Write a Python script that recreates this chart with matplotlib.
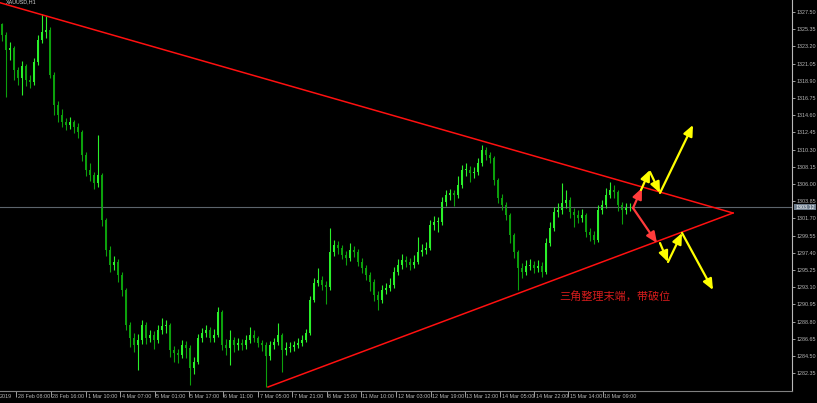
import matplotlib.pyplot as plt
import matplotlib.transforms as mtransforms
import numpy as np

# XAUUSD H1, one entry per candle
first_open = 1326.00
closes = [1324.62, 1322.75, 1323.00, 1320.25, 1319.25, 1320.75, 1319.00, 1318.75, 1321.25, 1324.00,
          1325.00, 1325.25, 1319.62, 1315.88, 1314.62, 1313.75, 1313.38, 1313.75, 1313.12, 1312.50,
          1309.62, 1307.75, 1307.12, 1306.12, 1307.12, 1301.50, 1297.75, 1295.88, 1296.25, 1294.62,
          1292.75, 1288.38, 1286.75, 1285.88, 1286.50, 1288.38, 1286.75, 1287.12, 1286.50, 1287.75,
          1288.25, 1288.38, 1285.25, 1284.88, 1284.62, 1285.88, 1285.50, 1283.00, 1283.75, 1286.75,
          1287.38, 1287.75, 1286.75, 1287.12, 1290.00, 1285.88, 1285.50, 1286.50, 1285.88, 1286.12,
          1285.88, 1286.50, 1287.12, 1286.75, 1286.12, 1285.88, 1284.50, 1285.88, 1286.25, 1287.12,
          1285.25, 1285.50, 1285.62, 1285.88, 1286.12, 1286.50, 1287.38, 1291.50, 1293.62, 1294.00,
          1293.38, 1293.12, 1297.50, 1298.38, 1298.00, 1297.12, 1296.75, 1297.75, 1297.50, 1296.25,
          1295.50, 1294.62, 1293.75, 1292.12, 1291.50, 1292.75, 1293.00, 1293.38, 1295.00, 1295.88,
          1296.50, 1296.25, 1295.88, 1296.25, 1297.50, 1297.75, 1298.00, 1300.88, 1301.25, 1301.25,
          1303.75, 1304.62, 1304.88, 1304.62, 1305.88, 1307.75, 1307.75, 1307.38, 1307.50, 1308.62,
          1310.25, 1309.62, 1309.25, 1306.50, 1304.25, 1303.38, 1302.12, 1299.62, 1297.50, 1295.50,
          1295.00, 1295.75, 1295.88, 1295.50, 1295.75, 1295.00, 1298.62, 1300.50, 1302.50, 1302.75,
          1303.62, 1304.00, 1302.50, 1302.12, 1301.75, 1302.12, 1300.00, 1299.62, 1299.00, 1302.75,
          1303.38, 1304.62, 1305.25, 1305.00, 1303.38, 1302.75, 1303.00, 1303.12]
highs = [1326.10, 1325.00, 1323.80, 1323.20, 1320.60, 1321.40, 1321.00, 1319.60, 1321.80, 1324.60,
         1327.30, 1327.00, 1325.60, 1320.00, 1316.40, 1315.40, 1314.20, 1314.40, 1314.00, 1313.60,
         1312.80, 1310.00, 1308.60, 1307.50, 1312.10, 1307.40, 1301.80, 1298.20, 1297.00, 1296.60,
         1295.00, 1293.00, 1288.80, 1287.40, 1287.20, 1289.00, 1288.80, 1287.80, 1287.60, 1288.40,
         1289.30, 1289.00, 1288.60, 1285.80, 1285.40, 1286.50, 1286.40, 1285.90, 1284.40, 1287.30,
         1288.00, 1288.40, 1288.10, 1287.90, 1290.60, 1290.20, 1286.60, 1287.80, 1286.90, 1286.80,
         1286.60, 1287.10, 1288.10, 1287.70, 1287.00, 1286.50, 1286.20, 1286.40, 1286.80, 1288.60,
         1287.40, 1286.20, 1286.20, 1286.40, 1286.70, 1287.10, 1287.90, 1292.00, 1294.20, 1295.50,
         1294.50, 1293.90, 1300.50, 1299.00, 1298.90, 1298.40, 1297.60, 1298.60, 1298.30, 1297.90,
         1296.70, 1295.90, 1295.00, 1294.10, 1292.60, 1293.40, 1293.60, 1294.20, 1295.60, 1296.60,
         1297.20, 1297.00, 1296.80, 1297.10, 1299.40, 1298.50, 1298.70, 1301.50, 1302.00, 1301.90,
         1304.40, 1305.20, 1305.40, 1305.30, 1307.00, 1308.40, 1308.60, 1308.20, 1308.10, 1309.20,
         1310.90, 1310.60, 1310.00, 1309.50, 1306.80, 1304.70, 1303.70, 1302.40, 1299.90, 1297.80,
         1296.10, 1296.50, 1296.60, 1296.40, 1296.50, 1296.20, 1299.20, 1301.20, 1303.10, 1303.60,
         1306.10, 1305.20, 1304.40, 1303.00, 1302.70, 1302.90, 1302.40, 1300.50, 1300.10, 1303.40,
         1304.00, 1305.50, 1306.20, 1305.90, 1305.30, 1303.80, 1303.60, 1303.60]
lows = [1323.90, 1316.90, 1321.50, 1319.00, 1318.40, 1317.10, 1318.30, 1318.00, 1318.40, 1320.90,
        1323.60, 1324.20, 1319.20, 1314.60, 1313.80, 1313.10, 1312.80, 1312.90, 1312.40, 1311.80,
        1308.90, 1307.00, 1306.40, 1305.40, 1305.60, 1300.80, 1297.00, 1295.00, 1295.20, 1293.80,
        1292.00, 1287.80, 1285.60, 1285.00, 1282.75, 1286.00, 1286.00, 1286.20, 1285.40, 1286.10,
        1287.20, 1287.40, 1284.40, 1283.80, 1283.60, 1284.20, 1284.20, 1280.90, 1282.30, 1283.50,
        1286.30, 1286.90, 1286.20, 1286.30, 1286.90, 1285.30, 1284.60, 1283.40, 1285.00, 1285.30,
        1285.20, 1285.40, 1286.10, 1286.20, 1285.60, 1285.10, 1280.60, 1284.00, 1285.40, 1285.90,
        1282.50, 1284.60, 1285.00, 1285.10, 1285.50, 1285.80, 1286.20, 1287.10, 1291.20, 1293.20,
        1292.70, 1291.00, 1292.80, 1297.00, 1297.30, 1296.60, 1295.90, 1296.40, 1296.90, 1295.70,
        1294.90, 1294.00, 1292.60, 1291.40, 1290.25, 1291.10, 1292.20, 1292.60, 1293.00, 1294.60,
        1295.40, 1295.60, 1295.20, 1295.50, 1296.00, 1297.00, 1297.20, 1297.70, 1300.20, 1300.00,
        1300.90, 1303.30, 1304.00, 1303.20, 1304.20, 1305.50, 1307.00, 1306.20, 1306.80, 1307.10,
        1308.30, 1309.00, 1308.60, 1305.90, 1303.60, 1302.80, 1301.50, 1298.60, 1296.80, 1292.75,
        1294.20, 1294.60, 1295.20, 1294.90, 1295.00, 1294.40, 1294.80, 1298.20, 1300.10, 1301.90,
        1302.30, 1303.00, 1301.80, 1300.60, 1301.10, 1301.30, 1299.40, 1298.90, 1298.50, 1298.70,
        1302.30, 1303.00, 1304.20, 1304.30, 1302.60, 1301.00, 1302.20, 1302.60]
opens = [first_open] + closes[:-1]
last_price = 1303.12

# time axis labels and the bar position where each sits
time_labels = ['28 Feb 08:00', '28 Feb 16:00', '1 Mar 10:00', '4 Mar 07:00', '5 Mar 01:00',
               '5 Mar 17:00', '6 Mar 11:00', '7 Mar 05:00', '7 Mar 21:00', '8 Mar 15:00',
               '11 Mar 10:00', '12 Mar 03:00', '12 Mar 19:00', '13 Mar 12:00', '14 Mar 05:00',
               '14 Mar 22:00', '15 Mar 14:00', '18 Mar 09:00']
time_ticks = [3.5, 12.25, 21.0, 29.5, 38.25, 46.75, 55.25, 64.0, 72.5, 81.25,
              89.75, 98.5, 107.25, 115.75, 124.5, 133.0, 141.5, 150.25]
first_label = '2019'  # tail of the first date label, cut by the left edge
price_ticks = [1327.50, 1325.35, 1323.20, 1321.05, 1318.90, 1316.75, 1314.60, 1312.45, 1310.30,
               1308.15, 1306.00, 1303.85, 1301.70, 1299.55, 1297.40, 1295.25, 1293.10, 1290.95,
               1288.80, 1286.65, 1284.50, 1282.35]

# triangle trend lines (bar, price)
upper_line = [(-0.5, 1328.66), (182.75, 1302.375)]
lower_line = [(66.5, 1280.625), (182.75, 1302.375)]

# hand-drawn arrows (bar, price) start -> end
red_arrows = [((157.75, 1303.0), (160.0, 1305.5)),
              ((157.75, 1303.0), (163.75, 1298.62))]
yellow_arrows = [((159.75, 1305.25), (162.0, 1307.75)),
                 ((162.0, 1307.5), (164.5, 1304.88)),
                 ((164.5, 1304.88), (172.75, 1313.38)),
                 ((164.5, 1298.62), (166.5, 1296.25)),
                 ((166.5, 1296.25), (170.0, 1299.88)),
                 ((170.0, 1299.88), (177.75, 1292.75))]

note_text = '三角整理末端，带破位'
note_pos = (139.25, 1292.0)

bg = '#000000'
up_col = '#2af02a'
down_col = '#0ca00c'
axis_col = '#b8b8b8'
small_font = ['Liberation Sans', 'DejaVu Sans']
small_size = 3.9

fig = plt.figure(figsize=(8.17, 4.03), dpi=100, facecolor=bg)
ax = fig.add_axes([0, 12 / 403, 792 / 817, 391 / 403], facecolor=bg)

x = np.arange(len(closes))
for i in x:
    o, c, h, l = opens[i], closes[i], highs[i], lows[i]
    col = up_col if c >= o else down_col
    ax.vlines(i, l, h, color=col, lw=0.8)
    ax.bar(i, max(abs(c - o), 0.08), bottom=min(o, c), width=0.72, color=col, lw=0)

# current price line
ax.axhline(last_price, color='#5c646c', lw=0.8, zorder=1)

for line in (upper_line, lower_line):
    xs, ys = zip(*line)
    ax.plot(xs, ys, color='#ff1010', lw=1.1, zorder=3)

for start, end in red_arrows:
    ax.annotate('', xy=end, xytext=start,
                arrowprops=dict(arrowstyle='-|>,head_length=0.8,head_width=0.35',
                                color='#ff3b3b', lw=1.6, mutation_scale=8, shrinkA=0, shrinkB=0),
                zorder=4)
for start, end in yellow_arrows:
    ax.annotate('', xy=end, xytext=start,
                arrowprops=dict(arrowstyle='-|>,head_length=0.8,head_width=0.35',
                                color='#ffff00', lw=1.6, mutation_scale=8, shrinkA=0, shrinkB=0),
                zorder=4)

ax.text(note_pos[0], note_pos[1], note_text, color='#d41c1c', fontsize=8,
        family=['Noto Sans CJK SC', 'DejaVu Sans'], ha='left', va='center')

ax.text(6 / 792, 1 - 1.5 / 391, 'XAUUSD,H1', transform=ax.transAxes, color='#d0d0d0',
        fontsize=small_size, family=small_font, ha='left', va='center', clip_on=True)

# price scale on the right
ax.yaxis.tick_right()
ax.set_yticks(price_ticks)
ax.set_yticklabels([f'{p:.2f}' for p in price_ticks])
ax.tick_params(axis='y', colors=axis_col, length=2.5, width=0.6, pad=0.8, labelsize=small_size)
for lab in ax.get_yticklabels():
    lab.set_family(small_font)

# time scale: tick mark then label to its right, MT4 style
ax.set_xticks(time_ticks)
ax.set_xticklabels([])
ax.tick_params(axis='x', colors=axis_col, length=4, width=0.6)
offset = mtransforms.ScaledTranslation(1.5 / 100, -5 / 100, fig.dpi_scale_trans)
trans = mtransforms.blended_transform_factory(ax.transData, ax.transAxes) + offset
for t, lab in zip(time_ticks, time_labels):
    ax.text(t, 0, lab, transform=trans, color=axis_col, fontsize=small_size, family=small_font,
            ha='left', va='center', clip_on=False)
ax.text(10 / 792, 0, first_label, transform=ax.transAxes + offset, color=axis_col,
        fontsize=small_size, family=small_font, ha='right', va='center')

ax.set_xlim(-0.5, 197.5)
ax.set_ylim(1280.125, 1329.0)

for side in ('left', 'top'):
    ax.spines[side].set_visible(False)
ax.spines['right'].set_color(axis_col)
ax.spines['bottom'].set_color('#808080')
ax.spines['right'].set_linewidth(0.8)
ax.spines['bottom'].set_linewidth(0.8)

# last price tag on the scale
ax.text(1.004, last_price, f'{last_price:.2f}',
        transform=mtransforms.blended_transform_factory(ax.transAxes, ax.transData),
        color='#ffffff', fontsize=small_size, family=small_font, ha='left', va='center',
        bbox=dict(boxstyle='square,pad=0.15', facecolor='#6c7c8c', edgecolor='none'), clip_on=False)

fig.savefig('out.png', dpi=100, facecolor=bg)
